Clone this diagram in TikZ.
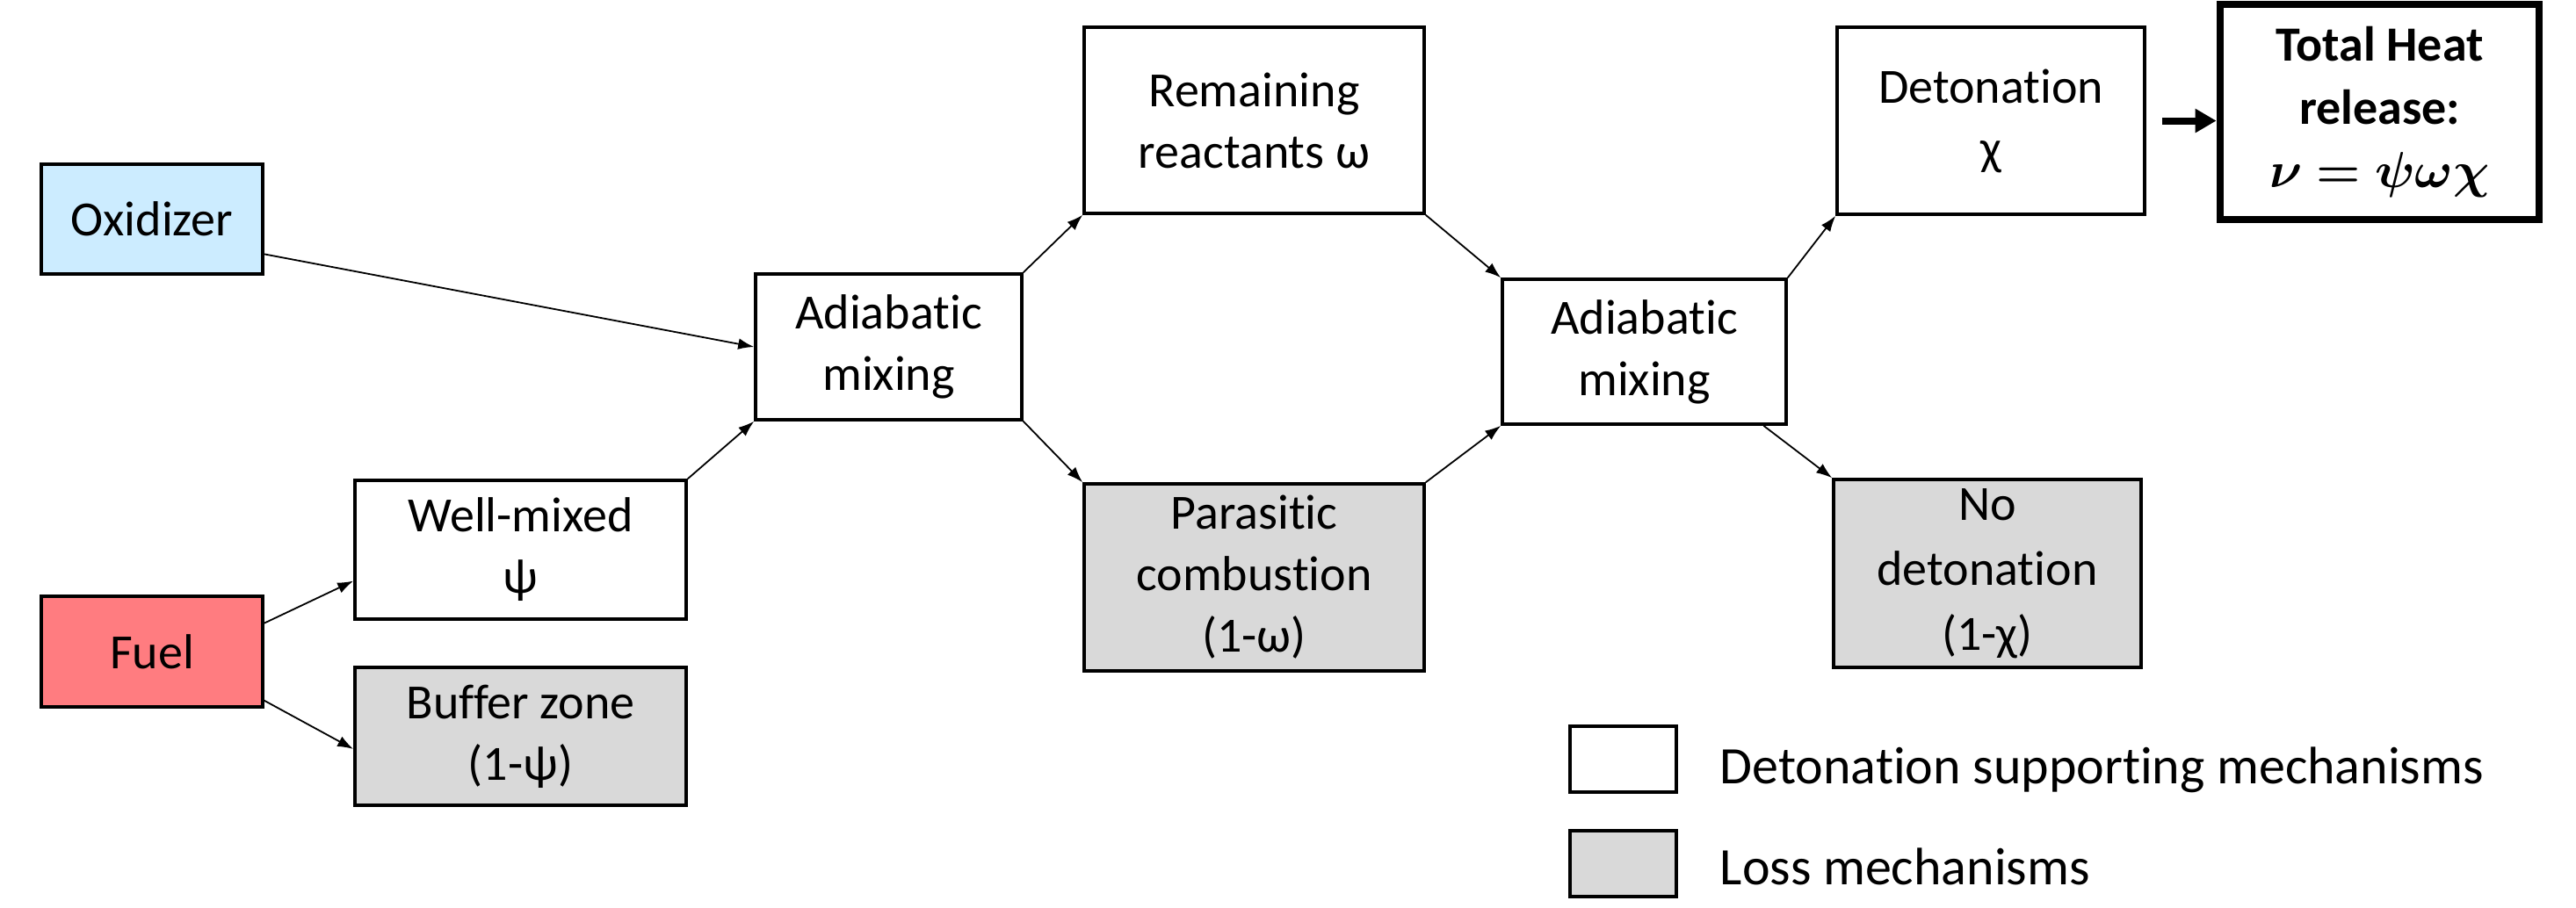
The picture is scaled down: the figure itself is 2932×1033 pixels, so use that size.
\documentclass[tikz,border=0pt]{standalone}
\usepackage{fontspec}
\usepackage{amsmath,bm}
\setmainfont[Ligatures=NoCommon]{Carlito}
\usetikzlibrary{arrows.meta,calc}
\definecolor{oxblue}{RGB}{204,236,255}
\definecolor{fuelred}{RGB}{255,124,128}
\definecolor{lossgray}{RGB}{217,217,217}
\begin{document}
\begin{tikzpicture}[x=0.25pt,y=-0.25pt,
  box/.style={draw=black,line width=0.9pt,inner sep=0pt,align=center,
    font=\fontsize{14}{17.5}\selectfont},
  lossbox/.style={box,fill=lossgray},
  arr/.style={line width=0.45pt,-{Latex[length=4.5pt,width=3.2pt]}},
  legtext/.style={anchor=west,inner sep=0pt,font=\fontsize{15}{18}\selectfont}]
\useasboundingbox (0,0) rectangle (2932,1033);
% nodes
\node[box,fill=oxblue,minimum width=63pt,minimum height=31.25pt] (ox) at (173,249.5) {Oxidizer};
\node[box,fill=fuelred,minimum width=63pt,minimum height=31.5pt] (fuel) at (173,742) {Fuel};
\node[box,minimum width=94.25pt,minimum height=39.5pt] (wm) at (592.5,626) {Well-mixed\\ψ};
\node[lossbox,minimum width=94.25pt,minimum height=39.25pt] (buf) at (592.5,838.5) {Buffer zone\\(1-ψ)};
\node[box,minimum width=75.75pt,minimum height=41.5pt] (am1) at (1011.5,395) {Adiabatic\\mixing};
\node[box,minimum width=96.75pt,minimum height=53pt] (rem) at (1427.5,137) {Remaining\\reactants ω};
\node[lossbox,minimum width=96.75pt,minimum height=53.25pt] (par) at (1427.5,657.5) {Parasitic\\combustion\\(1-ω)};
\node[box,minimum width=80.75pt,minimum height=41.25pt] (am2) at (1871.5,400.5) {Adiabatic\\mixing};
\node[box,minimum width=87.5pt,minimum height=53.25pt] (det) at (2266,137.5) {Detonation\\χ};
\node[lossbox,minimum width=87.5pt,minimum height=53.5pt,font=\fontsize{14}{18.5}\selectfont] (nodet) at (2262,653) {No\\detonation\\(1-χ)};
\node[box,line width=2.2pt,minimum width=90.75pt,minimum height=61.25pt,font=\fontsize{14}{18}\selectfont\bfseries] (tot) at (2708.5,127.5) {Total Heat\\release:\\$\boldsymbol{\nu=\psi\omega\chi}$};
% legend
\node[box,minimum width=30.25pt,minimum height=18.75pt] (leg1) at (1847.5,864.5) {};
\node[lossbox,minimum width=30.25pt,minimum height=18.75pt] (leg2) at (1847.5,983.5) {};
\node[legtext] (legt1) at (1957,877) {Detonation supporting mechanisms};
\node[legtext] (legt2) at (1957,987) {Loss mechanisms};
% connectors
\draw[arr] ($(ox.south east)!0.19!(ox.north east)$) -- (am1.west);
\draw[arr] (wm.north east) -- (am1.south west);
\draw[arr] ($(fuel.north east)!0.25!(fuel.south east)$) -- ($(wm.north west)!0.72!(wm.south west)$);
\draw[arr] ($(fuel.north east)!0.93!(fuel.south east)$) -- ($(buf.north west)!0.59!(buf.south west)$);
\draw[arr] (am1.north east) -- (rem.south west);
\draw[arr] (am1.south east) -- (par.north west);
\draw[arr] (rem.south east) -- (am2.north west);
\draw[arr] (par.north east) -- (am2.south west);
\draw[arr] (am2.north east) -- (det.south west);
\draw[arr] ($(am2.south east)!0.084!(am2.south west)$) -- (nodet.north west);
\draw[line width=2pt,-{Triangle[length=6pt,width=6.5pt]}] ($(det.east)+(18,0)$) -- (tot.west |- det.east);
\end{tikzpicture}
\end{document}
